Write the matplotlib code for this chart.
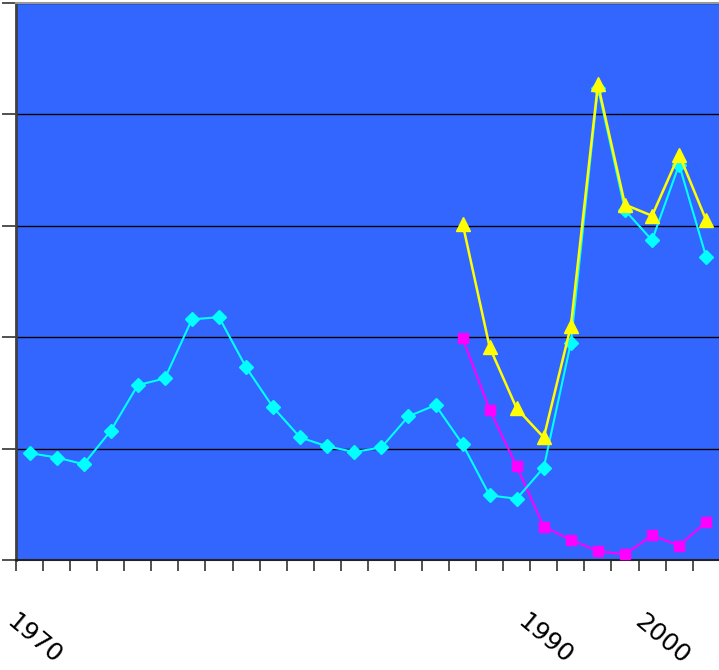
import numpy as np
import matplotlib.pyplot as plt
from matplotlib.transforms import blended_transform_factory

# === 数据区 ===
n_cat = 26
cyan_vals = [0.96, 0.92, 0.86, 1.16, 1.57, 1.63, 2.16, 2.18, 1.73, 1.37,
             1.10, 1.02, 0.97, 1.01, 1.29, 1.39, 1.04, 0.58, 0.55, 0.83,
             1.95, 4.24, 3.14, 2.87, 3.55, 2.72]
yellow_vals = [3.02, 1.91, 1.36, 1.10, 2.10, 4.27, 3.19, 3.09, 3.64, 3.05]
magenta_vals = [1.99, 1.35, 0.84, 0.30, 0.18, 0.08, 0.05, 0.22, 0.13, 0.34]
start_late = 16  # 后两条线从第16个类别开始
tick_labels = ['1970', '1990', '2000']
tick_label_pos = [0.15, 19.05, 23.35]

x_all = np.arange(n_cat)
x_late = np.arange(start_late, n_cat)

# === 绘图 ===
fig = plt.figure(figsize=(7.19, 6.70), dpi=100)
ax = fig.add_axes([16 / 719, 1 - 560 / 670, 1 - 16 / 719 + 0.001, 557 / 670])
ax.set_facecolor('#3366FF')

ax.plot(x_late, magenta_vals, color='#FF00FF', lw=1.5, marker='s', ms=7, zorder=3)
ax.plot(x_all, cyan_vals, color='#00FFFF', lw=1.5, marker='D', ms=7, zorder=4)
ax.plot(x_late, yellow_vals, color='#FFFF00', lw=1.8, marker='^', ms=10, zorder=5)

ax.set_xlim(-0.5, 25.5)
ax.set_ylim(0, 5)

# 网格线
ax.set_yticks([0, 1, 2, 3, 4, 5])
ax.set_yticklabels([])
ax.grid(axis='y', color='black', lw=1)
ax.set_axisbelow(True)
ax.tick_params(axis='y', direction='out', length=10, width=1.2, color='#333333')

# x轴刻度在类别边界
ax.set_xticks(np.arange(-0.5, n_cat, 1))
ax.set_xticklabels([])
ax.tick_params(axis='x', direction='out', length=8, width=1.2, color='#333333')

ax.spines['right'].set_visible(False)
ax.spines['top'].set_color('#999999')
ax.spines['top'].set_linewidth(1.5)
ax.spines['left'].set_color('#404040')
ax.spines['left'].set_linewidth(2)
ax.spines['bottom'].set_color('#222222')
ax.spines['bottom'].set_linewidth(1.5)

trans = blended_transform_factory(ax.transData, fig.transFigure)
for lab, pos in zip(tick_labels, tick_label_pos):
    ax.text(pos, 1 - 639 / 670, lab, transform=trans, rotation=-40,
            ha='center', va='center', rotation_mode='anchor',
            fontsize=18, color='black', clip_on=False)

fig.savefig('out.png', dpi=100)
